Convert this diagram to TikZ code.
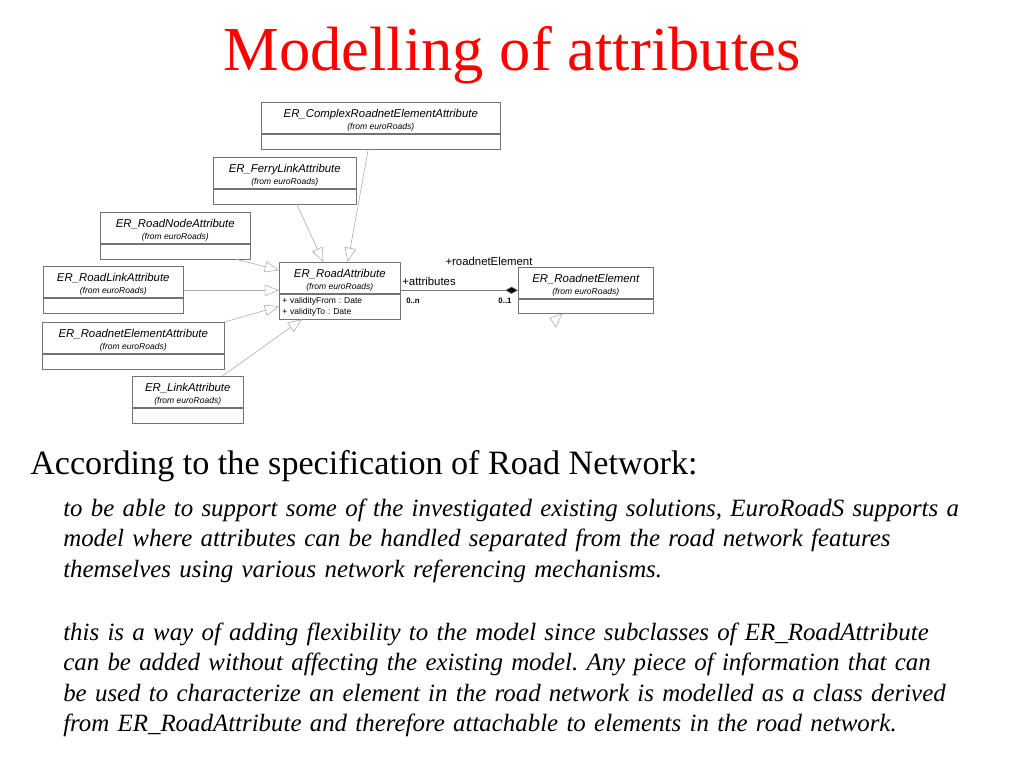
\documentclass[tikz,border=0pt]{standalone}
\usepackage{fontspec}
\setmainfont{Liberation Serif}
\setsansfont{Liberation Sans}
\usetikzlibrary{arrows.meta,positioning}
\definecolor{titlered}{RGB}{255,0,0}
\definecolor{boxline}{RGB}{115,115,115}
\definecolor{genline}{RGB}{170,170,170}
\definecolor{assocline}{RGB}{120,120,120}
\newdimen\pxu \pxu=0.703125pt
\newcommand\umlname[1]{\rule{0pt}{9.4pt}#1\\{\fontsize{6}{7}\selectfont(from euroRoads)}}
\frenchspacing
\tikzset{
  heading/.style={font=\fontsize{44}{50}\selectfont,text=titlered},
  lead/.style={font=\fontsize{24}{28}\selectfont},
  body/.style={font=\fontsize{17.5}{21.45}\selectfont\itshape,text width=1000*\pxu,align=left,inner sep=0pt},
  classname/.style={draw=boxline,fill=white,minimum width=#1*\pxu,minimum height=31*\pxu,
    inner xsep=0pt,inner ysep=-3pt,align=center,anchor=north west,font=\sffamily\itshape\fontsize{8}{8}\selectfont},
  classattr/.style={draw=boxline,fill=white,minimum width=#1*\pxu,minimum height=15*\pxu,inner sep=0pt},
  gen/.style={draw=genline,-{Triangle[open,length=10pt,width=8pt]}},
  assoc/.style={draw=assocline,-{Diamond[length=9pt,width=5pt,fill=black]}},
  role/.style={font=\sffamily\fontsize{8}{9}\selectfont,inner sep=0pt},
  mult/.style={font=\sffamily\bfseries\fontsize{5.5}{6}\selectfont,inner sep=0pt},
}
\begin{document}
\begin{tikzpicture}[x=\pxu,y=-\pxu]
  \useasboundingbox (0,0) rectangle (1024,768);
  \node[heading,anchor=base] (title) at (512,71) {Modelling of attributes};

  % class boxes
  \node[classname=239] (cplx) at (261,102) {\umlname{ER\_ComplexRoadnetElementAttribute}};
  \node[classattr=239,below=0pt of cplx] (cplx-a) {};
  \node[classname=143] (ferry) at (213,157) {\umlname{ER\_FerryLinkAttribute}};
  \node[classattr=143,below=0pt of ferry] (ferry-a) {};
  \node[classname=150] (rnode) at (100,212) {\umlname{ER\_RoadNodeAttribute}};
  \node[classattr=150,below=0pt of rnode] (rnode-a) {};
  \node[classname=140] (rlink) at (43,266) {\umlname{ER\_RoadLinkAttribute}};
  \node[classattr=140,below=0pt of rlink] (rlink-a) {};
  \node[classname=182] (rneattr) at (42,322) {\umlname{ER\_RoadnetElementAttribute}};
  \node[classattr=182,below=0pt of rneattr] (rneattr-a) {};
  \node[classname=111] (link) at (132,376) {\umlname{ER\_LinkAttribute}};
  \node[classattr=111,below=0pt of link] (link-a) {};
  \node[classname=121] (rattr) at (279,262) {\umlname{ER\_RoadAttribute}};
  \node[classattr=121,below=0pt of rattr,minimum height=25*\pxu,text width=115*\pxu,inner xsep=3*\pxu,
    align=left,font=\sffamily\fontsize{6}{7.7}\selectfont] (rattr-a) {+ validityFrom : Date\\+ validityTo : Date};
  \node[classname=135] (rnet) at (518,267) {\umlname{ER\_RoadnetElement}};
  \node[classattr=135,below=0pt of rnet,minimum height=14*\pxu] (rnet-a) {};

  % generalisations
  \draw[gen] ([xshift=-12.5*\pxu]cplx-a.south) -- ([xshift=8*\pxu]rattr.north);
  \draw[gen] ([xshift=12*\pxu]ferry-a.south) -- ([xshift=-16.5*\pxu]rattr.north);
  \draw[gen] ([xshift=-15*\pxu]rnode-a.south east) -- ([yshift=7.5*\pxu]rattr.west);
  \draw[gen] ([yshift=-8.5*\pxu]rlink.east) -- ([yshift=-12.5*\pxu]rattr.west);
  \draw[gen] (rneattr.north east) -- (rattr-a.west);
  \draw[gen] ([xshift=-21*\pxu]link.north east) -- ([xshift=23*\pxu]rattr-a.south west);
  \draw[genline] (550,318) -- (562,314) -- (556,327) -- cycle;

  % association
  \draw[assoc] ([yshift=-12.5*\pxu]rattr.east) -- ([yshift=-7.5*\pxu]rnet.west);
  \node[role] (role-elem) at (489,261) {+roadnetElement};
  \node[role,anchor=west] (role-attr) at (402,281) {+attributes};
  \node[mult] (mult-n) at (413,301) {0..n};
  \node[mult] (mult-1) at (505,301) {0..1};

  % text
  \node[lead,anchor=base west,inner sep=0pt] (spec) at (30,474) {According to the specification of Road Network:};
  \node[body,anchor=base west] (para) at (63,516) {to be able to support some of the investigated existing solutions, EuroRoadS supports a\\
    model where attributes can be handled separated from the road network features\\
    themselves using various network referencing mechanisms.\\[22.9pt]
    this is a way of adding flexibility to the model since subclasses of ER\_RoadAttribute\\
    can be added without affecting the existing model. Any piece of information that can\\
    be used to characterize an element in the road network is modelled as a class derived\\
    from ER\_RoadAttribute and therefore attachable to elements in the road network.};
\end{tikzpicture}
\end{document}
